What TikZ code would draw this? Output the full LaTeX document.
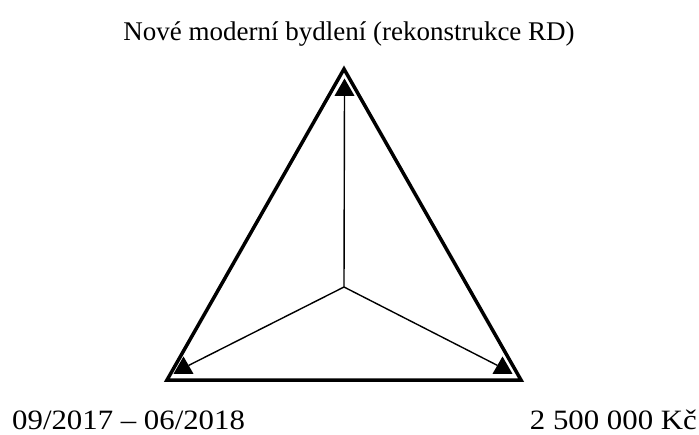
\documentclass[tikz,border=0pt]{standalone}
\usepackage{fontspec}
\setmainfont{Liberation Serif}
\usepackage{tikz}
\usetikzlibrary{shapes.geometric}

\begin{document}
\begin{tikzpicture}[
    x=1pt, y=-1pt,
    outline/.style={draw, line width=3.5pt, line join=miter},
    spoke/.style={draw, line width=1.4pt},
    marker/.style={regular polygon, regular polygon sides=3, fill=black, minimum size=23pt, inner sep=0pt, outer sep=0pt},
    title/.style={font=\fontsize{27}{32}\selectfont, inner sep=0pt},
    label/.style={font=\fontsize{28}{32}\selectfont, inner sep=0pt},
]
    \useasboundingbox (0,0) rectangle (699,434);

    % corners of the triangle
    \coordinate (apex) at (344,69);
    \coordinate (left) at (167,380);
    \coordinate (right) at (521,380);
    \coordinate (mid) at (344,287);

    \draw[outline] (apex) -- (left) -- (right) -- cycle;

    \node[marker] (top) at (344.5,90) {};
    \node[marker] (bl) at (183.5,368) {};
    \node[marker] (br) at (502.5,368) {};

    \draw[spoke] (mid) -- (top);
    \draw[spoke] (mid) -- (bl);
    \draw[spoke] (mid) -- (br);

    \node[title, anchor=base] (goal) at (349,40) {Nové moderní bydlení (rekonstrukce RD)};
    \node[label, anchor=base west] (time) at (12,429) {\scalebox{1.1}[1]{09/2017 – 06/2018}};
    \node[label, anchor=base east] (cost) at (697,429) {\scalebox{1.1}[1]{2 500 000 Kč}};
\end{tikzpicture}
\end{document}
